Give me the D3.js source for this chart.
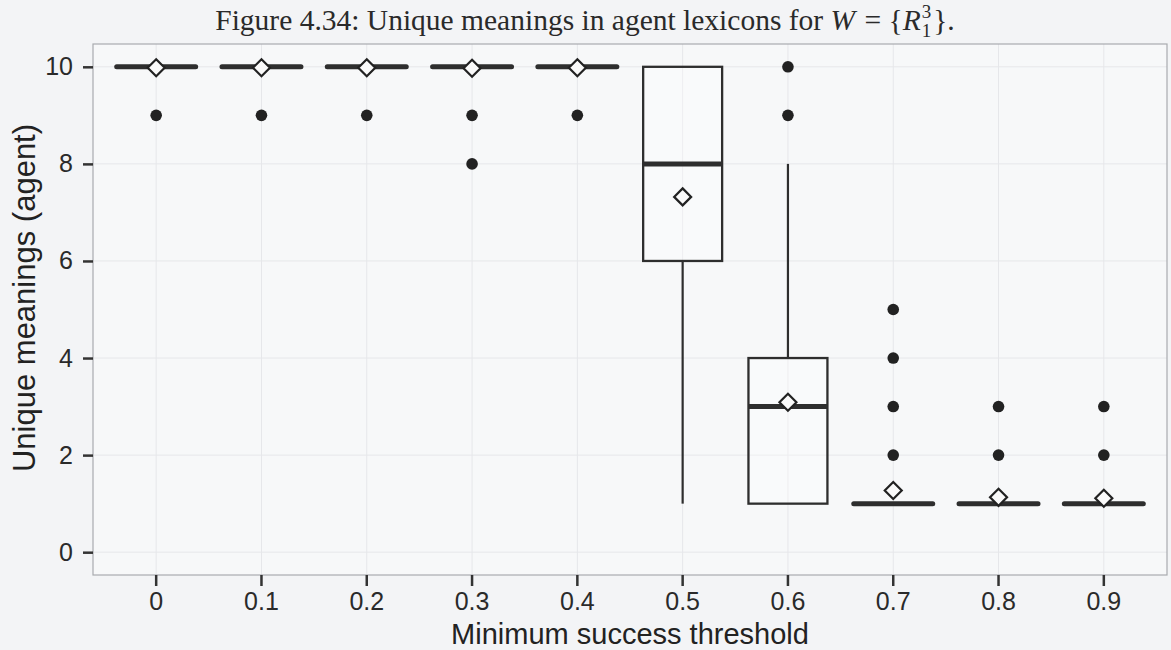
<!DOCTYPE html>
<html><head><meta charset="utf-8">
<script src="https://cdn.jsdelivr.net/npm/d3@7"></script>
<style>body{margin:0;background:#f3f4f6;}svg{display:block;}</style>
</head><body>
<svg id="c" width="1171" height="650"></svg>
<script>
const categories = ["0","0.1","0.2","0.3","0.4","0.5","0.6","0.7","0.8","0.9"];
const q1Values     = [10,10,10,10,10, 6, 1, 1, 1, 1];
const medianValues = [10,10,10,10,10, 8, 3, 1, 1, 1];
const q3Values     = [10,10,10,10,10,10, 4, 1, 1, 1];
const whiskerLow   = [10,10,10,10,10, 1, 1, 1, 1, 1];
const whiskerHigh  = [10,10,10,10,10,10, 8, 1, 1, 1];
const meanValues   = [9.98,9.98,9.98,9.97,9.98,7.32,3.09,1.27,1.13,1.11];
const outlierValues = [[9],[9],[9],[9,8],[9],[],[9,10],[2,3,4,5],[2,3],[2,3]];
const yTicks = [0,2,4,6,8,10];

const svg = d3.select("#c");
const m = {left:93, right:1167, top:44, bottom:575};
const x = d3.scaleBand().domain(categories).range([m.left, m.right]).paddingOuter(0.1).paddingInner(0);
const y = d3.scaleLinear().domain([-0.47, 10.47]).range([m.bottom, m.top]);
const bw = x.bandwidth()*0.75;
const cx = c => x(c) + x.bandwidth()/2;
const ink = "#2e2e2e";
const sans = "'Liberation Sans', Arial, sans-serif";
const serif = "'Liberation Serif','Times New Roman',serif";

svg.append("rect").attr("x",m.left).attr("y",m.top).attr("width",m.right-m.left).attr("height",m.bottom-m.top)
  .attr("fill","#f7f8f9");
// grid
svg.append("g").selectAll("line").data(yTicks).join("line")
  .attr("x1",m.left).attr("x2",m.right).attr("y1",d=>y(d)).attr("y2",d=>y(d))
  .attr("stroke","#e6e7ea").attr("stroke-width",1);
svg.append("g").selectAll("line").data(categories).join("line")
  .attr("y1",m.top).attr("y2",m.bottom).attr("x1",cx).attr("x2",cx)
  .attr("stroke","#e6e7ea").attr("stroke-width",1);
svg.append("rect").attr("x",m.left).attr("y",m.top).attr("width",m.right-m.left).attr("height",m.bottom-m.top)
  .attr("fill","none").attr("stroke","#a9abaf").attr("stroke-width",1.2);

// axes
const yAxis = svg.append("g").attr("transform",`translate(${m.left},0)`)
  .call(d3.axisLeft(y).tickValues(yTicks).tickSize(10).tickPadding(10).tickFormat(d3.format("d")));
const xAxis = svg.append("g").attr("transform",`translate(0,${m.bottom})`)
  .call(d3.axisBottom(x).tickSize(11).tickPadding(6));
[yAxis,xAxis].forEach(a=>{
  a.select(".domain").remove();
  a.selectAll(".tick line").attr("stroke","#333").attr("stroke-width",2.5);
  a.selectAll(".tick text").attr("fill","#2a2a2a").style("font-family",sans).style("font-size","25px");
});

// boxes
const data = categories.map((c,i)=>({c, q1:q1Values[i], med:medianValues[i], q3:q3Values[i], lo:whiskerLow[i], hi:whiskerHigh[i], mean:meanValues[i], out:outlierValues[i]}));
const g = svg.append("g");
data.forEach(d=>{
  const X = cx(d.c);
  if (d.hi > d.q3) g.append("line").attr("x1",X).attr("x2",X).attr("y1",y(d.q3)).attr("y2",y(d.hi)).attr("stroke",ink).attr("stroke-width",2.2);
  if (d.lo < d.q1) g.append("line").attr("x1",X).attr("x2",X).attr("y1",y(d.q1)).attr("y2",y(d.lo)).attr("stroke",ink).attr("stroke-width",2.2);
  if (d.q3 > d.q1) g.append("rect").attr("x",X-bw/2).attr("y",y(d.q3)).attr("width",bw).attr("height",y(d.q1)-y(d.q3))
     .attr("fill","#ffffff").attr("fill-opacity",0.3).attr("stroke",ink).attr("stroke-width",2.3);
  g.append("line").attr("x1",X-bw/2).attr("x2",X+bw/2).attr("y1",y(d.med)).attr("y2",y(d.med))
    .attr("stroke",ink).attr("stroke-width",5).attr("stroke-linecap", d.q3>d.q1 ? "butt":"round");
  g.selectAll(null).data(d.out).join("circle").attr("cx",X).attr("cy",v=>y(v)).attr("r",5.8).attr("fill","#222");
  const s=8.5, yy=y(d.mean);
  g.append("path").attr("d",`M${X},${yy-s}L${X+s},${yy}L${X},${yy+s}L${X-s},${yy}Z`)
    .attr("fill","#fafafa").attr("stroke","#222").attr("stroke-width",2.2);
});

// title built from pieces, measured and centred
const tg = svg.append("g");
let cur = 0;
function piece(txt, opts={}) {
  const t = tg.append("text").attr("x",cur + (opts.dx||0)).attr("y",opts.dy||0)
    .style("font-family",serif).style("font-size",(opts.size||29.5)+"px").style("white-space","pre")
    .style("font-style",opts.italic?"italic":"normal").attr("fill","#2a2a2a").text(txt);
  const w = t.node().getComputedTextLength();
  if (!opts.noAdvance) cur += w + (opts.dx||0);
  return w;
}
piece("Figure 4.34: Unique meanings in agent lexicons for ");
piece("W", {italic:true});
piece(" = {", {dx:2});
piece("R", {italic:true});
piece("3", {size:19, dy:-12, dx:1, noAdvance:true});
piece("1", {size:19, dy:7, dx:1});
piece("}.", {dx:2});
tg.attr("transform",`translate(${585 - cur/2},30)`);

svg.append("text").attr("x",630).attr("y",644).attr("text-anchor","middle")
  .style("font-family",sans).style("font-size","29px").attr("fill","#222")
  .text("Minimum success threshold");
svg.append("text").attr("transform","translate(35,298) rotate(-90)").attr("text-anchor","middle")
  .style("font-family",sans).style("font-size","31px").attr("fill","#222")
  .text("Unique meanings (agent)");
</script>
</body></html>
